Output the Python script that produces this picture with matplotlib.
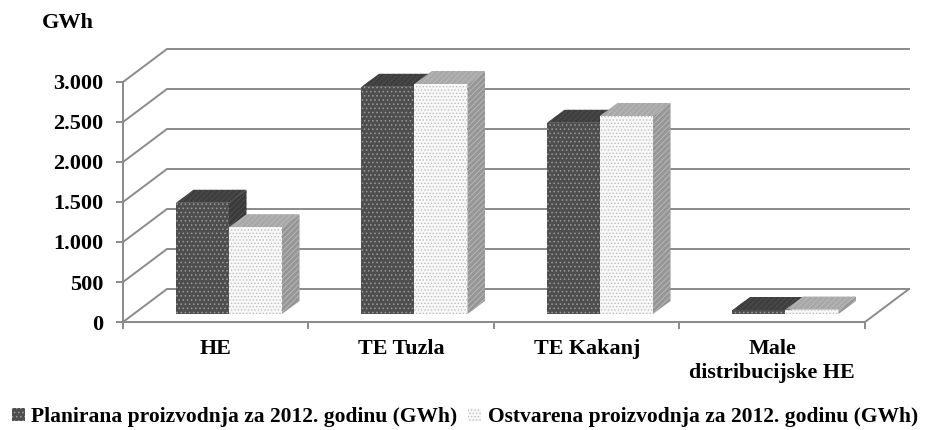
import matplotlib
matplotlib.use("Agg")
import matplotlib.pyplot as plt
from matplotlib.patches import Patch, Polygon

plt.rcParams['font.family'] = ['Liberation Serif', 'DejaVu Serif']
plt.rcParams['font.weight'] = 'bold'
plt.rcParams['hatch.linewidth'] = 0.6

categories = ["HE", "TE Tuzla", "TE Kakanj", "Male\ndistribucijske HE"]
planned = [1390, 2840, 2390, 50]
realized = [1085, 2875, 2475, 55]
y_ticks = [0, 500, 1000, 1500, 2000, 2500, 3000]
y_tick_labels = ["0", "500", "1.000", "1.500", "2.000", "2.500", "3.000"]
series_names = ["Planirana proizvodnja za 2012. godinu (GWh)",
                "Ostvarena proizvodnja za 2012. godinu (GWh)"]

W, H = 937, 430
GRID = "#8a8a8a"
PX_X = 185.5  # pixels per category
PX_Y = 0.08   # pixels per GWh

fig = plt.figure(figsize=(W / 100, H / 100), dpi=100)
ax = fig.add_axes([123 / W, 1 - 322 / H, (910 - 123) / W, (322 - 51) / H])
ax.set_xlim(0, (910 - 123) / PX_X)
ax.set_ylim(0, (322 - 51) / PX_Y)
ax.patch.set_visible(False)

# oblique offsets of the wall and of the bars, in data units
wall_dx, wall_dy = 44 / PX_X, 33 / PX_Y
depth_dx, depth_dy = 17.5 / PX_X, 13 / PX_Y
bar_start = 53 / PX_X
bar_lift = 8 / PX_Y
bar_w = 53 / PX_X

# back wall and left side
for v in y_ticks:
    ax.plot([0, wall_dx, len(categories) + wall_dx], [v, v + wall_dy, v + wall_dy],
            color=GRID, lw=1.4, zorder=1, clip_on=False)
ax.plot([len(categories), len(categories) + wall_dx], [0, wall_dy],
        color=GRID, lw=1.4, zorder=1, clip_on=False)


def draw_bar(x, value, front, top, side, hatch, hatch_col, face_hatch_col, z):
    y1 = bar_lift + value
    ax.add_patch(Polygon([(x, y1), (x + bar_w, y1),
                          (x + bar_w + depth_dx, y1 + depth_dy), (x + depth_dx, y1 + depth_dy)],
                         facecolor=top, edgecolor=face_hatch_col, hatch="//////", linewidth=0,
                         zorder=z, clip_on=False))
    ax.add_patch(Polygon([(x + bar_w, bar_lift), (x + bar_w + depth_dx, bar_lift + depth_dy),
                          (x + bar_w + depth_dx, y1 + depth_dy), (x + bar_w, y1)],
                         facecolor=side, edgecolor=face_hatch_col, hatch="//////", linewidth=0,
                         zorder=z, clip_on=False))
    ax.bar(x, value, bar_w, bottom=bar_lift, align='edge', color=front,
           edgecolor=hatch_col, hatch=hatch, linewidth=0, zorder=z + 0.5)


for i in range(len(categories)):
    x0 = i + bar_start
    draw_bar(x0, planned[i], "#4e4e4e", "#3e3e3e", "#3a3a3a", "....", "#9a9a9a", "#505050", 3)
    draw_bar(x0 + bar_w, realized[i], "#f8f8f8", "#a8a8a8", "#969696", ".....", "#bdbdbd", "#bcbcbc", 4)

# axes
for s in ['top', 'right']:
    ax.spines[s].set_visible(False)
for s in ['left', 'bottom']:
    ax.spines[s].set_color(GRID)
    ax.spines[s].set_linewidth(1.4)
ax.spines['left'].set_bounds(0, 3000)
ax.spines['bottom'].set_bounds(0, len(categories))

ax.set_yticks(y_ticks, y_tick_labels, fontsize=16)
ax.set_xticks(range(len(categories) + 1), [""] * (len(categories) + 1))
ax.set_xticks([i + 0.5 for i in range(len(categories))], categories, minor=True,
              fontsize=15.8, linespacing=1.3)
ax.tick_params(axis='both', which='major', color=GRID, width=1.4, length=5)
ax.tick_params(axis='x', which='minor', length=0, pad=12)
ax.tick_params(axis='y', pad=9)

fig.text(42 / W, 1 - 23 / H, "GWh", fontsize=16, va='center', ha='left')

handles = [Patch(facecolor="#4e4e4e", edgecolor="#9a9a9a", hatch="....", linewidth=0),
           Patch(facecolor="#f8f8f8", edgecolor="#bdbdbd", hatch=".....", linewidth=0)]
fig.legend(handles, series_names, ncols=2, loc='center', bbox_to_anchor=(465 / W, 1 - 417 / H),
           frameon=False, fontsize=15.45, handlelength=0.6, handleheight=0.6,
           handletextpad=0.3, columnspacing=0.5, borderpad=0, borderaxespad=0)

fig.savefig("out.png", dpi=100)
